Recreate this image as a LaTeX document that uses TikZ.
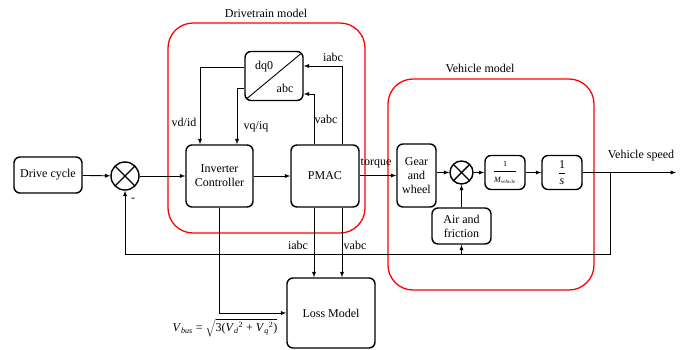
\documentclass[tikz,border=0pt]{standalone}
\usepackage{fontspec}
\setmainfont{Liberation Serif}

\tikzset{
  bloc/.style={draw,thick,line width=1.4pt,rounded corners=6pt,fill=white,align=center,inner sep=2pt},
  somme/.style={draw,circle,line width=1.4pt,minimum size=#1,inner sep=0pt,fill=white,
    path picture={\draw[line width=1.4pt] (path picture bounding box.north west) -- (path picture bounding box.south east)
      (path picture bounding box.north east) -- (path picture bounding box.south west);}},
  zone/.style={draw=red,line width=1.3pt,rounded corners=25pt},
  fil/.style={line width=0.9pt}
}

\begin{document}
\begin{tikzpicture}[x=1pt,y=-1pt,>=latex,font=\fontsize{12}{14}\selectfont]
\useasboundingbox (0,0) rectangle (683,349);

% Zones
\draw[zone] (168,23) rectangle (365,233);
\node (titreA) at (266,13) {Drivetrain model};
\draw[zone] (388,79) rectangle (594,290);
\node (titreB) at (480,68) {Vehicle model};

% Blocs
\node[bloc,minimum width=68,minimum height=36] (cycle) at (48,175) {Drive cycle};
\node[somme=28pt] (s1) at (125,176) {};
\node[bloc,minimum width=67,minimum height=62] (inv) at (219.5,176) {Inverter\\Controller};
\node[bloc,minimum width=68,minimum height=62] (pmac) at (325,176) {PMAC};
\node[bloc,minimum width=58,minimum height=49] (dq0) at (274,76) {};
\node (tdq) at (264,67) {dq0};
\node (tabc) at (285,88) {abc};
\node[bloc,minimum width=39,minimum height=63,inner sep=1pt] (gear) at (416.5,175.5) {Gear\\and\\wheel};
\node[somme=23pt] (s2) at (461.5,172.5) {};
\node[bloc,minimum width=40,minimum height=34,inner sep=0pt] (masse) at (505,172.5)
  {$\displaystyle\frac{\mbox{\footnotesize 1}}{\mbox{\footnotesize\textit{M}\textsubscript{\textit{\tiny vehicle}}}}$};
\node[bloc,minimum width=40,minimum height=34,inner sep=0pt] (integ) at (562,172.5)
  {$\displaystyle\frac{\mbox{1}}{\mbox{\textit{s}}}$};
\node[bloc,minimum width=59,minimum height=36] (air) at (461.5,226) {Air and\\friction};
\node[bloc,minimum width=88,minimum height=70] (loss) at (331,313) {Loss Model};

% Diagonale dq0/abc
\draw[fil] ([shift={(-3,3)}]dq0.north east) -- ([shift={(3,-3)}]dq0.south west);

% Chaine directe
\draw[fil,->] (cycle) -- (s1);
\draw[fil,->] (s1) -- (inv);
\draw[fil,->] (inv) -- (pmac);
\draw[fil,->] (pmac.east |- gear) -- (gear);
\node (ttorque) at (376,163) {torque};
\draw[fil,->] (gear.east |- s2) -- (s2);
\draw[fil,->] (s2) -- (masse);
\draw[fil,->] (masse) -- (integ);
\coordinate (vout) at (676,172.5);
\draw[fil,->] (integ) -- (vout);
\node (tspeed) at (641,156) {Vehicle speed};

% Boucle dq0
\draw[fil,->] ([yshift=9pt]dq0.west) -| ([xshift=-19.5pt]inv.north);
\draw[fil,->] ([yshift=-12pt]dq0.west) -| ([xshift=17.5pt]inv.north);
\draw[fil,->] ([xshift=17pt]pmac.north) |- ([yshift=10pt]dq0.east);
\draw[fil,->] ([xshift=-11pt]pmac.north) |- ([yshift=-18pt]dq0.east);
\node (tvdid) at (184,122) {vd/id};
\node (tvqiq) at (256,127) {vq/iq};
\node (tvabc) at (326,119) {vabc};
\node (tiabc) at (333,57) {iabc};

% Retour vitesse
\coordinate (br) at (610,172.5);
\coordinate (fb) at (610,254);
\draw[fil,->] (br) -- (fb) -| (s1.south);
\draw[fil,->] (air.south |- fb) -- (air.south);
\draw[fil,->] (air) -- (s2);
\node (tmoins) at (133,200) {-};

% Pertes
\draw[fil,->] ([xshift=-11pt]pmac.south) -- ([xshift=-11pt]pmac.south |- loss.north);
\draw[fil,->] ([xshift=17pt]pmac.south) -- ([xshift=17pt]pmac.south |- loss.north);
\node (tiabc2) at (298,245) {iabc};
\node (tvabc2) at (355,245) {vabc};
\draw[fil,->] (inv.south) |- (loss.west);
\node (tvbus) at (225,328) {\textit{V}\textsubscript{\textit{bus}} = $\sqrt{\mbox{3(\textit{V}\textsubscript{\textit{d}}\textsuperscript{2} + \textit{V}\textsubscript{\textit{q}}\textsuperscript{2})}}$};

\end{tikzpicture}
\end{document}
